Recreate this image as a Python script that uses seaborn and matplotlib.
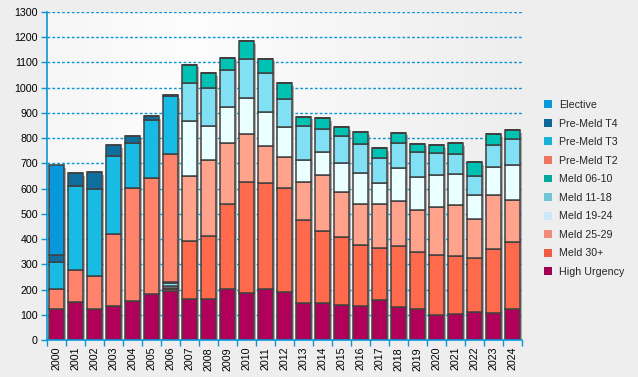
import numpy as np
import pandas as pd
import seaborn as sns
import matplotlib.pyplot as plt
from matplotlib.patches import Patch
from matplotlib.transforms import offset_copy

# Years on the x axis
years = list(range(2000, 2025))

# Transplants per year and urgency category
high_urgency = [122, 150, 122, 135, 155, 181, 194, 163, 163, 202, 186, 202, 189,
                147, 147, 139, 134, 157, 130, 122, 98, 102, 110, 106, 122]
meld_30 = [0, 0, 0, 0, 0, 0, 8, 229, 248, 336, 439, 420, 413,
           328, 284, 268, 242, 207, 242, 226, 238, 230, 214, 254, 266]
meld_25_29 = [0, 0, 0, 0, 0, 0, 6, 258, 302, 242, 190, 147, 123,
              151, 222, 179, 162, 174, 179, 167, 190, 202, 155, 214, 166]
meld_19_24 = [0, 0, 0, 0, 0, 0, 8, 218, 135, 143, 143, 135, 119,
              87, 91, 115, 123, 83, 131, 131, 127, 123, 95, 111, 139]
meld_11_18 = [0, 0, 0, 0, 0, 0, 8, 151, 151, 147, 155, 155, 111,
              135, 91, 107, 115, 99, 99, 99, 87, 79, 75, 87, 103]
meld_06_10 = [0, 0, 0, 0, 0, 0, 6, 71, 59, 48, 71, 56, 63,
              36, 44, 36, 48, 40, 40, 32, 32, 44, 56, 44, 36]
pre_meld_t2 = [79, 127, 131, 284, 447, 460, 507] + [0] * 18
pre_meld_t3 = [107, 333, 345, 310, 178, 230, 229] + [0] * 18
pre_meld_t4 = [28, 51, 67, 43, 28, 16, 5] + [0] * 18
elective = [357] + [0] * 24

# Legend order (top of legend = top of stack)
categories = ['Elective', 'Pre-Meld T4', 'Pre-Meld T3', 'Pre-Meld T2', 'Meld 06-10',
              'Meld 11-18', 'Meld 19-24', 'Meld 25-29', 'Meld 30+', 'High Urgency']
series = [elective, pre_meld_t4, pre_meld_t3, pre_meld_t2, meld_06_10,
          meld_11_18, meld_19_24, meld_25_29, meld_30, high_urgency]

bar_colors = ['#0898DC', '#0E6F9F', '#18BBE4', '#FF836A', '#00C2B2',
              '#82E0F5', '#EAFFFF', '#FFA38C', '#FF6A4D', '#B0005A']
legend_colors = ['#0A97D8', '#0B6896', '#17B3D9', '#F07462', '#00A99E',
                 '#72C5D9', '#CDE8F8', '#F28B7C', '#F15B42', '#A10050']

blue = '#0A96D8'

# Long-form table for seaborn
df = pd.DataFrame({
    'year': np.tile(years, len(categories)),
    'category': np.repeat(categories, len(years)),
    'value': np.concatenate(series),
})
totals = np.sum(series, axis=0)

sns.set_theme(style='white')
plt.rcParams['font.family'] = ['Liberation Sans', 'DejaVu Sans']

fig = plt.figure(figsize=(6.38, 3.77), dpi=100, facecolor='#EEEEEE')
ax = fig.add_axes([47 / 638, 37 / 377, 475 / 638, 328 / 377])
ax.set_facecolor('#EEEEEE')

# Soft horizontal gradient behind the plot
x = np.linspace(0, 1, 256)
g = np.interp(x, [0, 0.3, 1], [0.965, 0.992, 0.932])
grad = np.stack([g, g, g], axis=-1)[np.newaxis, :, :]
ax.imshow(grad, extent=[0, 1, 0, 1], transform=ax.transAxes, aspect='auto', zorder=0.1)

# Drop shadow under each full bar
shadow_tr = offset_copy(ax.transData, fig=fig, x=2.5, y=-2.5, units='dots')
ax.bar(years, totals, width=0.78, color='#8a8a8a', alpha=0.65, linewidth=0,
       transform=shadow_tr, zorder=0.9)

sns.histplot(data=df, x='year', weights='value', hue='category', hue_order=categories,
             palette=dict(zip(categories, bar_colors)), multiple='stack', discrete=True,
             shrink=0.78, alpha=1, edgecolor='#404040', linewidth=1.1, legend=False,
             ax=ax, zorder=1)

ax.set_xlim(1999.5, 2024.5)
ax.set_ylim(0, 1300)
ax.set_yticks(range(0, 1301, 100))
ax.set_xticks(years)
ax.set_xticklabels([str(y) for y in years], rotation=90)
ax.set_xticks(np.arange(1999.5, 2025, 1), minor=True)
ax.set_xlabel('')
ax.set_ylabel('')

ax.set_axisbelow(True)
ax.yaxis.grid(True, color=blue, linestyle=(0, (2, 1.5)), linewidth=1.0)
ax.xaxis.grid(False)

for side in ['top', 'right']:
    ax.spines[side].set_visible(False)
for side in ['left', 'bottom']:
    ax.spines[side].set_color(blue)
    ax.spines[side].set_linewidth(1.2)

ax.tick_params(axis='y', which='major', left=True, length=4.5, width=1, color=blue,
               labelsize=7.7, labelcolor='black', pad=2)
ax.tick_params(axis='x', which='major', bottom=True, length=0, labelsize=7.7,
               labelcolor='black', pad=5)
ax.tick_params(axis='x', which='minor', bottom=True, length=4, width=1, color=blue)

handles = [Patch(facecolor=c, edgecolor='none') for c in legend_colors]
fig.legend(handles, categories, loc='center left', bbox_to_anchor=(0.838, 0.5),
           frameon=False, fontsize=7.7, handlelength=0.75, handleheight=0.75,
           handletextpad=0.6, labelspacing=0.8)

fig.savefig('out.png', dpi=100, facecolor=fig.get_facecolor())
